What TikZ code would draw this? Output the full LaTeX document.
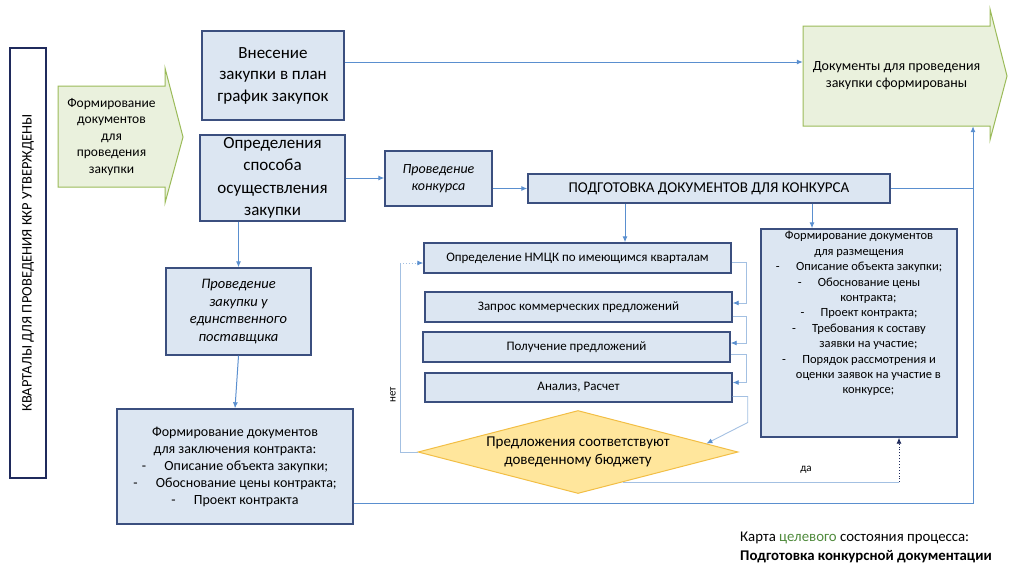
\documentclass[tikz,border=0pt]{standalone}
\usepackage{fontspec}
\setmainfont{Carlito}
\usetikzlibrary{arrows.meta,shapes.geometric,calc}
\definecolor{boxfill}{HTML}{DCE6F2}
\definecolor{boxline}{HTML}{3B4F7F}
\definecolor{navy}{HTML}{1F2A5C}
\definecolor{arrblue}{HTML}{5A8FCF}
\definecolor{thinblue}{HTML}{A3C0E2}
\definecolor{grfill}{HTML}{EAF1DD}
\definecolor{grline}{HTML}{9BBB59}
\definecolor{yefill}{HTML}{FFE69C}
\definecolor{yeline}{HTML}{F2BE45}
\definecolor{capgreen}{HTML}{4F8A3C}
\newcommand{\fsz}[2]{\fontsize{#1}{#2}\selectfont}

\begin{document}
\begin{tikzpicture}[x=1pt,y=-1pt,
box/.style={draw=boxline,fill=boxfill,line width=1.4pt,align=center,inner sep=0pt},
txt/.style={align=center,inner sep=0pt},
con/.style={draw=arrblue,line width=1pt,-{Latex[length=6pt,width=5pt]}},
lnk/.style={draw=arrblue,line width=1pt},
thn/.style={draw=thinblue,line width=0.9pt},
thncon/.style={thn,-{Latex[length=6pt,width=5pt,color=arrblue]}}]
\useasboundingbox (0,0) rectangle (1024,574);
\filldraw[fill=grfill,draw=grline,line width=1pt] (58,86) -- (165,86) -- (165,68) -- (183,137) -- (165,203) -- (165,187) -- (58,187) -- cycle;
\filldraw[fill=grfill,draw=grline,line width=1pt] (803,26) -- (990,26) -- (990,9) -- (1007,76) -- (990,140) -- (990,126) -- (803,126) -- cycle;
\node[draw=navy,line width=2.5pt,rotate=90,minimum width=430,minimum height=36,inner sep=0pt,font=\fsz{14.5}{17}] (kv) at (28,263) {КВАРТАЛЫ ДЛЯ ПРОВЕДЕНИЯ ККР УТВЕРЖДЕНЫ};
\node[txt,font=\fsz{13.5}{16.5}] (frm) at (111.5,137) {Формирование\\документов\\для\\проведения\\закупки};
\node[txt,minimum width=187,minimum height=100,font=\fsz{14}{17}] (tgt) at (896.5,76) {Документы для проведения\\закупки сформированы};
\node[box,minimum width=142,minimum height=89,font=\fsz{17}{21.5}] (vnes) at (273,75.5) {Внесение\\закупки в план\\график закупок};
\node[box,minimum width=145,minimum height=86,font=\fsz{17}{22.5}] (opr) at (272.5,178) {Определения\\способа\\осуществления\\закупки};
\node[box,minimum width=107,minimum height=55,font=\itshape\fsz{14}{16.5}] (konk) at (438.5,178.5) {Проведение\\конкурса};
\node[box,minimum width=362,minimum height=29,font=\fsz{15}{17}] (podg) at (709,188.5) {ПОДГОТОВКА ДОКУМЕНТОВ ДЛЯ КОНКУРСА};
\node[box,minimum width=307,minimum height=30,font=\fsz{13}{15}] (nmck) at (577.5,258) {Определение НМЦК по имеющимся кварталам};
\node[box,minimum width=307,minimum height=30,font=\fsz{13}{15}] (zapr) at (578.5,307) {Запрос коммерческих предложений};
\node[box,minimum width=307,minimum height=30,font=\fsz{13}{15}] (polu) at (576.5,347) {Получение предложений};
\node[box,minimum width=307,minimum height=29,font=\fsz{13}{15}] (anal) at (578.5,387.5) {Анализ, Расчет};
\node[draw=yeline,fill=yefill,line width=1pt,diamond,aspect=3.85,inner sep=0pt,minimum width=320,minimum height=83,align=center,font=\fsz{15}{18}] (dia) at (578,452) {Предложения соответствуют\\доведенному бюджету};
\node[box,minimum width=196,minimum height=208] (razm) at (859,333) {};
\node[txt,anchor=north,font=\fsz{12.5}{15.4}] (razmt) at ([yshift=-3pt]razm.north) {Формирование документов\\для размещения\\-\hspace{1.3em}Описание объекта закупки;\\-\hspace{1.3em}Обоснование цены\\\hspace*{1.5em}контракта;\\-\hspace{1.3em}Проект контракта;\\-\hspace{1.3em}Требования к составу\\\hspace*{1.5em}заявки на участие;\\-\hspace{1.3em}Порядок рассмотрения и\\\hspace*{1.5em}оценки заявок на участие в\\\hspace*{1.5em}конкурсе;};
\node[box,minimum width=145,minimum height=87,font=\itshape\fsz{14.5}{17.5}] (edin) at (238.5,311.5) {Проведение\\закупки у\\единственного\\поставщика};
\node[box,minimum width=236,minimum height=115,font=\fsz{14}{17}] (zakl) at (235,466.5) {Формирование документов\\для заключения контракта:\\-\hspace{1.3em}Описание объекта закупки;\\-\hspace{1.3em}Обоснование цены контракта;\\-\hspace{1.3em}Проект контракта};
\coordinate (cr) at (973,503);
\coordinate (d1) at (625,0);
\coordinate (d2) at (812,0);
\coordinate (s1) at (746,0);
\coordinate (n2) at (400,263);
\coordinate (y1) at (899,482);
\coordinate (p1) at ($(dia.south)!0.28!(dia.east)$);
\draw[con] ([yshift=13.5pt]vnes.east) -- ([yshift=13.5pt]vnes.east -| tgt.west);
\draw[con] (opr.east) -- (opr.east -| konk.west);
\draw[con] (konk.east |- podg.west) -- (podg.west);
\draw[con] (edin.north |- opr.south) -- (edin.north);
\draw[con] (edin.south) -- (zakl.north);
\draw[con] (zakl.east |- cr) -- (cr) -- (cr |- tgt.south);
\draw[lnk] (podg.east) -- (podg.east -| cr);
\draw[con] (d1 |- podg.south) -- (d1 |- nmck.north);
\draw[con] (d2 |- podg.south) -- (d2 |- razm.north);
\draw[thncon] ([yshift=-4pt]nmck.east) -- ([yshift=-4pt]nmck.east -| s1) -- ([yshift=4pt]s1 |- zapr.east) -- ([yshift=4pt]zapr.east);
\draw[thncon] ([yshift=-9pt]zapr.east) -- ([yshift=-9pt]zapr.east -| s1) -- ([yshift=4pt]s1 |- polu.east) -- ([yshift=4pt]polu.east);
\draw[thncon] ([yshift=-7pt]polu.east) -- ([yshift=-7pt]polu.east -| s1) -- ([yshift=5pt]s1 |- anal.east) -- ([yshift=5pt]anal.east);
\draw[thncon] ([yshift=-9pt]anal.east) -- ++(15,0) -- ++(0,26) -- ($(dia.north)!0.8!(dia.east)$);
\draw[thn] (dia.west) -- (dia.west -| n2) -- (n2);
\draw[thncon,dotted] (n2) -- (n2 -| nmck.west);
\draw[thn] (p1) -- (p1 -| y1);
\draw[draw=navy,line width=0.9pt,dotted,-{Latex[length=6pt,width=5pt]}] (p1 -| y1) -- (y1 |- razm.south);
\node[rotate=90,font=\fsz{11}{13}] (net) at (393,395) {нет};
\node[font=\fsz{11}{13}] (da) at (806,470) {да};
\node[anchor=west,align=left,inner sep=0pt,font=\fsz{14.8}{19}] (cap) at (740,547.5) {Карта \textcolor{capgreen}{целевого} состояния процесса:\\\textbf{Подготовка конкурсной документации}};
\end{tikzpicture}
\end{document}
